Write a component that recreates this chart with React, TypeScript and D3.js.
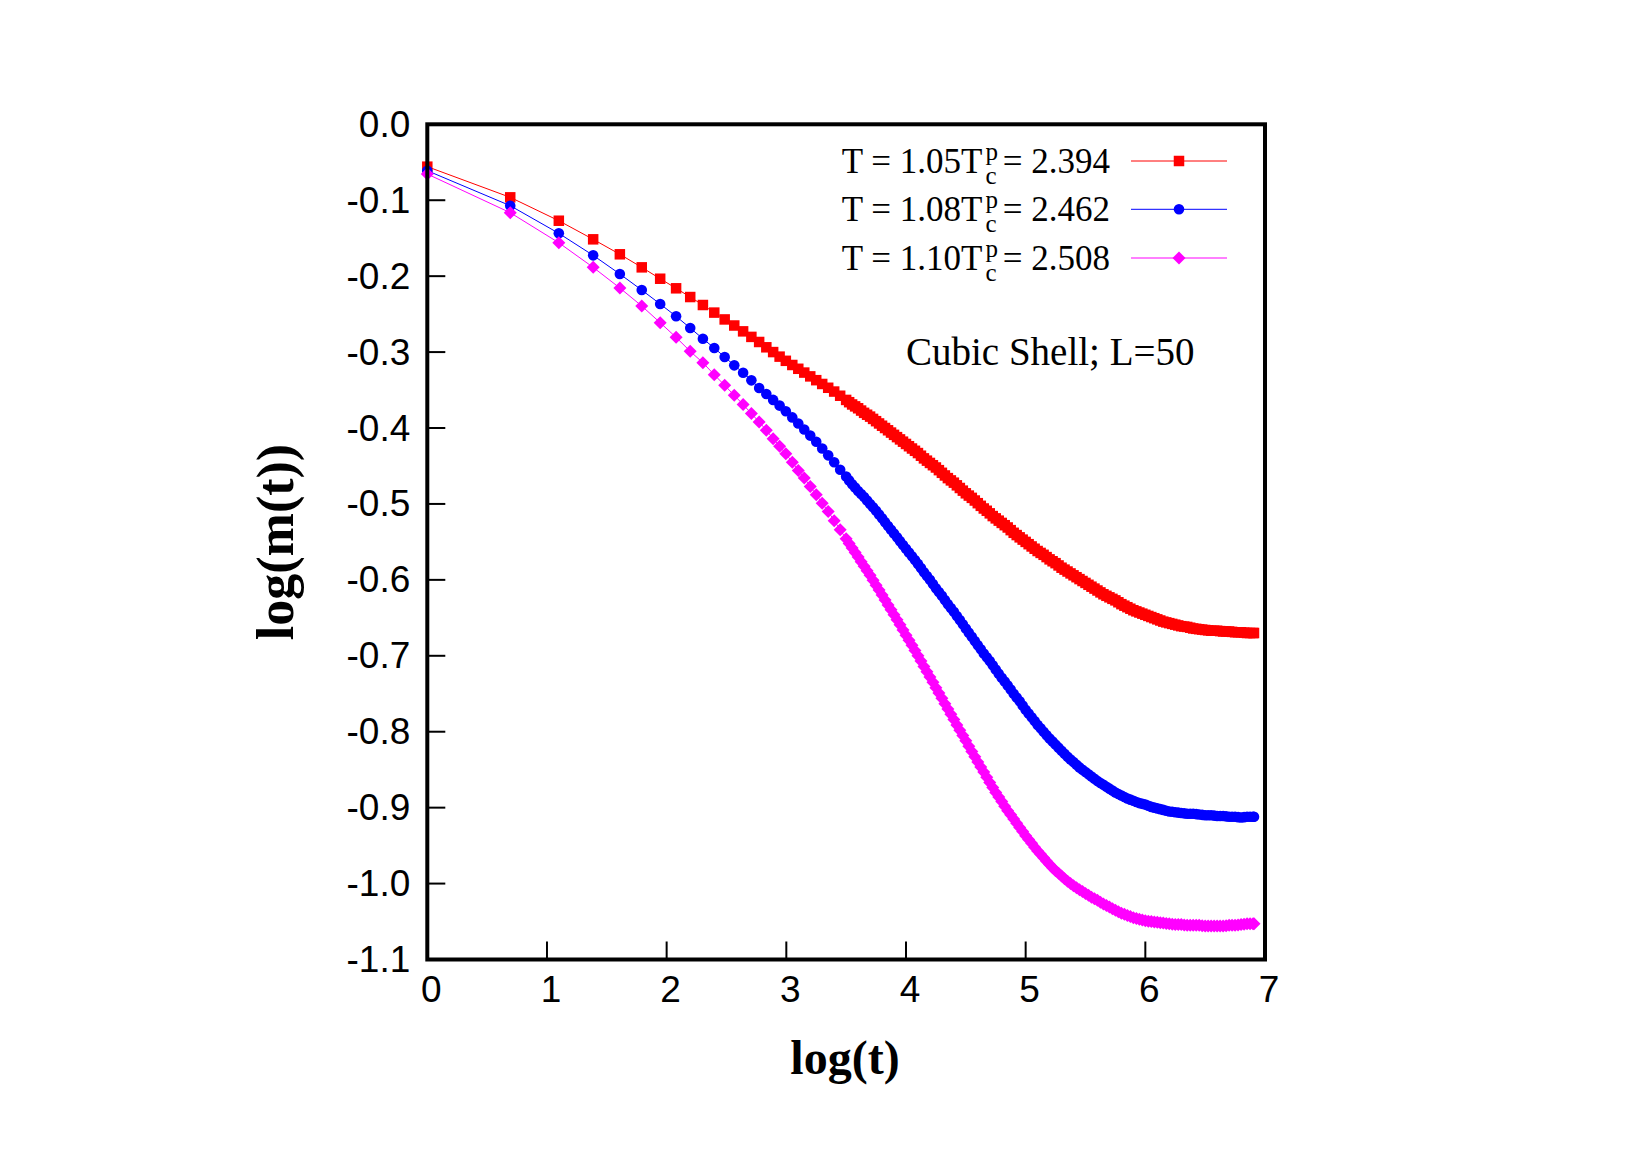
import React from "react";
import * as d3 from "d3";

// log(t) positions: t = 1..20 as separate points, then dense sampling where markers merge
const logT = [
  0, 0.693, 1.099, 1.386, 1.609, 1.792, 1.946, 2.079, 2.197, 2.303,
  2.398, 2.485, 2.565, 2.639, 2.708, 2.773, 2.833, 2.89, 2.944, 2.996,
  3.05, 3.1, 3.15, 3.2, 3.25, 3.3, 3.35, 3.4, 3.45,
  3.5, 3.525, 3.55, 3.575, 3.6, 3.625, 3.65, 3.675, 3.7, 3.725,
  3.75, 3.775, 3.8, 3.825, 3.85, 3.875, 3.9, 3.925, 3.95, 3.975,
  4.0, 4.025, 4.05, 4.075, 4.1, 4.125, 4.15, 4.175, 4.2, 4.225,
  4.25, 4.275, 4.3, 4.325, 4.35, 4.375, 4.4, 4.425, 4.45, 4.475,
  4.5, 4.525, 4.55, 4.575, 4.6, 4.625, 4.65, 4.675, 4.7, 4.725,
  4.75, 4.775, 4.8, 4.825, 4.85, 4.875, 4.9, 4.925, 4.95, 4.975,
  5.0, 5.025, 5.05, 5.075, 5.1, 5.125, 5.15, 5.175, 5.2, 5.225,
  5.25, 5.275, 5.3, 5.325, 5.35, 5.375, 5.4, 5.425, 5.45, 5.475,
  5.5, 5.525, 5.55, 5.575, 5.6, 5.625, 5.65, 5.675, 5.7, 5.725,
  5.75, 5.775, 5.8, 5.825, 5.85, 5.875, 5.9, 5.925, 5.95, 5.975,
  6.0, 6.025, 6.05, 6.075, 6.1, 6.125, 6.15, 6.175, 6.2, 6.225,
  6.25, 6.275, 6.3, 6.325, 6.35, 6.375, 6.4, 6.425, 6.45, 6.475,
  6.5, 6.525, 6.55, 6.575, 6.6, 6.625, 6.65, 6.675, 6.7, 6.725,
  6.75, 6.775, 6.8, 6.825, 6.85, 6.875, 6.9, 6.908,
];

const redLogM = [
  -0.0558, -0.0962, -0.127, -0.1515, -0.1712, -0.1884, -0.2034, -0.216, -0.2275, -0.238,
  -0.248, -0.257, -0.265, -0.2727, -0.28, -0.2867, -0.2937, -0.3, -0.306, -0.3115,
  -0.317, -0.322, -0.327, -0.332, -0.337, -0.342, -0.347, -0.352, -0.3575,
  -0.363, -0.366, -0.369, -0.3715, -0.374, -0.377, -0.38, -0.3825, -0.385, -0.388,
  -0.391, -0.394, -0.397, -0.4, -0.403, -0.406, -0.409, -0.412, -0.415, -0.418,
  -0.421, -0.424, -0.427, -0.43, -0.433, -0.4365, -0.44, -0.443, -0.446, -0.449,
  -0.452, -0.4555, -0.459, -0.4625, -0.466, -0.469, -0.472, -0.4755, -0.479, -0.4825,
  -0.486, -0.489, -0.492, -0.4955, -0.499, -0.5025, -0.506, -0.509, -0.5124, -0.516,
  -0.519, -0.522, -0.525, -0.528, -0.531, -0.5345, -0.538, -0.541, -0.544, -0.547,
  -0.55, -0.553, -0.556, -0.559, -0.562, -0.5645, -0.567, -0.57, -0.573, -0.5755,
  -0.578, -0.581, -0.584, -0.5865, -0.589, -0.5915, -0.594, -0.5965, -0.599, -0.6015,
  -0.604, -0.6065, -0.609, -0.6115, -0.614, -0.6165, -0.619, -0.621, -0.623, -0.625,
  -0.627, -0.6295, -0.632, -0.634, -0.636, -0.638, -0.64, -0.6415, -0.643, -0.6445,
  -0.646, -0.6475, -0.649, -0.6505, -0.652, -0.6535, -0.655, -0.656, -0.657, -0.658,
  -0.659, -0.66, -0.661, -0.6615, -0.662, -0.663, -0.664, -0.6645, -0.665, -0.6655,
  -0.666, -0.6665, -0.667, -0.667, -0.667, -0.6675, -0.668, -0.668, -0.668, -0.6685,
  -0.669, -0.669, -0.669, -0.6695, -0.67, -0.67, -0.67, -0.67,
];

const blueLogM = [
  -0.0611, -0.1072, -0.1436, -0.1726, -0.1972, -0.2183, -0.2367, -0.2529, -0.2683, -0.2824,
  -0.2947, -0.3065, -0.3175, -0.3272, -0.3372, -0.3473, -0.3553, -0.363, -0.3705, -0.378,
  -0.386, -0.394, -0.402, -0.41, -0.418, -0.427, -0.436, -0.445, -0.455,
  -0.464, -0.469, -0.474, -0.4785, -0.483, -0.487, -0.491, -0.4955, -0.5, -0.5045,
  -0.509, -0.514, -0.519, -0.524, -0.529, -0.534, -0.539, -0.544, -0.549, -0.554,
  -0.559, -0.564, -0.569, -0.574, -0.579, -0.5845, -0.59, -0.595, -0.6, -0.6055,
  -0.611, -0.616, -0.621, -0.6265, -0.632, -0.637, -0.642, -0.6475, -0.653, -0.6585,
  -0.664, -0.6695, -0.675, -0.6805, -0.686, -0.6915, -0.697, -0.702, -0.707, -0.7125,
  -0.718, -0.7235, -0.729, -0.734, -0.739, -0.7445, -0.75, -0.755, -0.76, -0.7655,
  -0.771, -0.776, -0.781, -0.786, -0.791, -0.7955, -0.8, -0.8045, -0.809, -0.813,
  -0.817, -0.821, -0.825, -0.829, -0.833, -0.8365, -0.84, -0.8435, -0.847, -0.85,
  -0.853, -0.856, -0.859, -0.862, -0.865, -0.8675, -0.87, -0.8725, -0.875, -0.8775,
  -0.88, -0.882, -0.884, -0.886, -0.888, -0.8895, -0.891, -0.8925, -0.894, -0.895,
  -0.896, -0.8975, -0.899, -0.9, -0.901, -0.902, -0.903, -0.904, -0.905, -0.9055,
  -0.906, -0.9065, -0.907, -0.9075, -0.908, -0.908, -0.908, -0.9085, -0.909, -0.9095,
  -0.91, -0.91, -0.91, -0.9105, -0.911, -0.911, -0.911, -0.9115, -0.912, -0.912,
  -0.912, -0.9125, -0.913, -0.9125, -0.912, -0.912, -0.912, -0.912,
];

const magentaLogM = [
  -0.0655, -0.1164, -0.156, -0.1884, -0.2156, -0.2393, -0.2613, -0.2806, -0.299, -0.314,
  -0.3298, -0.3438, -0.357, -0.369, -0.381, -0.392, -0.403, -0.414, -0.424, -0.434,
  -0.445, -0.456, -0.466, -0.477, -0.488, -0.499, -0.51, -0.522, -0.534,
  -0.546, -0.552, -0.558, -0.564, -0.57, -0.576, -0.582, -0.588, -0.594, -0.6005,
  -0.607, -0.6135, -0.62, -0.6265, -0.633, -0.6395, -0.646, -0.6525, -0.659, -0.666,
  -0.673, -0.6795, -0.686, -0.693, -0.7, -0.707, -0.714, -0.721, -0.728, -0.735,
  -0.742, -0.749, -0.756, -0.763, -0.77, -0.777, -0.784, -0.791, -0.798, -0.805,
  -0.812, -0.819, -0.826, -0.833, -0.84, -0.8465, -0.853, -0.86, -0.867, -0.8735,
  -0.88, -0.886, -0.892, -0.898, -0.904, -0.9095, -0.915, -0.9205, -0.926, -0.9315,
  -0.937, -0.942, -0.947, -0.952, -0.957, -0.9615, -0.966, -0.9705, -0.975, -0.979,
  -0.983, -0.9865, -0.99, -0.9935, -0.997, -1.0, -1.003, -1.0055, -1.008, -1.0105,
  -1.013, -1.0155, -1.018, -1.02, -1.022, -1.0245, -1.027, -1.029, -1.031, -1.033,
  -1.035, -1.037, -1.039, -1.0405, -1.042, -1.0435, -1.045, -1.046, -1.047, -1.048,
  -1.049, -1.0495, -1.05, -1.0505, -1.051, -1.0515, -1.052, -1.0525, -1.053, -1.0535,
  -1.054, -1.054, -1.054, -1.0545, -1.055, -1.055, -1.055, -1.055, -1.055, -1.0555,
  -1.056, -1.056, -1.056, -1.056, -1.056, -1.056, -1.056, -1.0555, -1.055, -1.055,
  -1.055, -1.0545, -1.054, -1.0535, -1.053, -1.053, -1.053, -1.053,
];

const xTicks = [0, 1, 2, 3, 4, 5, 6, 7];
const yTicks = [0.0, -0.1, -0.2, -0.3, -0.4, -0.5, -0.6, -0.7, -0.8, -0.9, -1.0, -1.1];

const legendTemps = ["1.05", "1.08", "1.10"];
const legendValues = ["2.394", "2.462", "2.508"];
const seriesColors = ["#ff0000", "#0000ff", "#ff00ff"];
const seriesShapes = ["square", "circle", "diamond"];
const annotation = "Cubic Shell; L=50";

const W = 1635;
const H = 1155;
const left = 427.3;
const right = 1265;
const top = 124.3;
const bottom = 959.5;

function Marker({ shape, x, y, color }: { shape: string; x: number; y: number; color: string }) {
  if (shape === "square") {
    const s = 10.5;
    return <rect x={x - s / 2} y={y - s / 2} width={s} height={s} fill={color} />;
  }
  if (shape === "circle") {
    return <circle cx={x} cy={y} r={5.3} fill={color} />;
  }
  const d = 6.5;
  return <path d={`M${x},${y - d}L${x + d},${y}L${x},${y + d}L${x - d},${y}Z`} fill={color} />;
}

export default function App() {
  const xScale = d3.scaleLinear().domain([0, 7]).range([left, right]);
  const yScale = d3.scaleLinear().domain([-1.1, 0]).range([bottom, top]);
  const series = [redLogM, blueLogM, magentaLogM];
  const line = d3
    .line<[number, number]>()
    .x((d) => xScale(d[0]))
    .y((d) => yScale(d[1]));

  const tickLen = 18;
  const sansFont = "'Liberation Sans', Arial, Helvetica, sans-serif";
  const serifFont = "'Liberation Serif', 'Times New Roman', serif";

  const legendRowY = [161, 209.3, 258];

  return (
    <svg
      width={W}
      height={H}
      viewBox={`0 0 ${W} ${H}`}
      style={{ position: "absolute", left: 0, top: 0, background: "#fff" }}
    >
      <rect x={0} y={0} width={W} height={H} fill="#fff" />
      {yTicks.map((t) => (
        <line
          key={"yt" + t}
          x1={left}
          x2={left + tickLen}
          y1={yScale(t)}
          y2={yScale(t)}
          stroke="#000"
          strokeWidth={2}
        />
      ))}
      {xTicks.map((t) => (
        <line
          key={"xt" + t}
          x1={xScale(t)}
          x2={xScale(t)}
          y1={bottom}
          y2={bottom - tickLen}
          stroke="#000"
          strokeWidth={2}
        />
      ))}
      {yTicks.map((t) => (
        <text
          key={"yl" + t}
          x={left - 17}
          y={yScale(t) + 12.5}
          textAnchor="end"
          fontFamily={sansFont}
          fontSize={37}
          fill="#000"
        >
          {t.toFixed(1)}
        </text>
      ))}
      {xTicks.map((t) => (
        <text
          key={"xl" + t}
          x={xScale(t) + 4}
          y={1002}
          textAnchor="middle"
          fontFamily={sansFont}
          fontSize={37}
          fill="#000"
        >
          {t}
        </text>
      ))}
      <text
        x={845}
        y={1074}
        textAnchor="middle"
        fontFamily={serifFont}
        fontWeight="bold"
        fontSize={48}
        fill="#000"
      >
        log(t)
      </text>
      <text
        transform={`translate(293,542) rotate(-90)`}
        textAnchor="middle"
        fontFamily={serifFont}
        fontWeight="bold"
        fontSize={52}
        fill="#000"
      >
        log(m(t))
      </text>

      {series.map((ys, si) => {
        const pts: [number, number][] = logT.map((x, i) => [x, ys[i]]);
        return (
          <g key={"s" + si}>
            <path d={line(pts) || ""} fill="none" stroke={seriesColors[si]} strokeWidth={1} />
            {pts.map((p, i) => (
              <Marker
                key={i}
                shape={seriesShapes[si]}
                x={xScale(p[0])}
                y={yScale(p[1])}
                color={seriesColors[si]}
              />
            ))}
          </g>
        );
      })}

      {legendTemps.map((tmp, i) => {
        const y = legendRowY[i];
        return (
          <g key={"lg" + i}>
            <text fontFamily={serifFont} fill="#000" fontSize={35}>
              <tspan x={841.7} y={y + 12}>{`T = ${tmp}T`}</tspan>
              <tspan x={985.5} y={y - 1.5} fontSize={25}>p</tspan>
              <tspan x={985.5} y={y + 22.5} fontSize={25}>c</tspan>
              <tspan x={1002.7} y={y + 12}>{`= ${legendValues[i]}`}</tspan>
            </text>
            <line x1={1131} x2={1227} y1={y} y2={y} stroke={seriesColors[i]} strokeWidth={1} />
            <Marker shape={seriesShapes[i]} x={1179} y={y} color={seriesColors[i]} />
          </g>
        );
      })}

      <text x={906} y={365} fontFamily={serifFont} fontSize={39} fill="#000">
        {annotation}
      </text>

      <rect
        x={left}
        y={top}
        width={right - left}
        height={bottom - top}
        fill="none"
        stroke="#000"
        strokeWidth={4}
      />
    </svg>
  );
}
